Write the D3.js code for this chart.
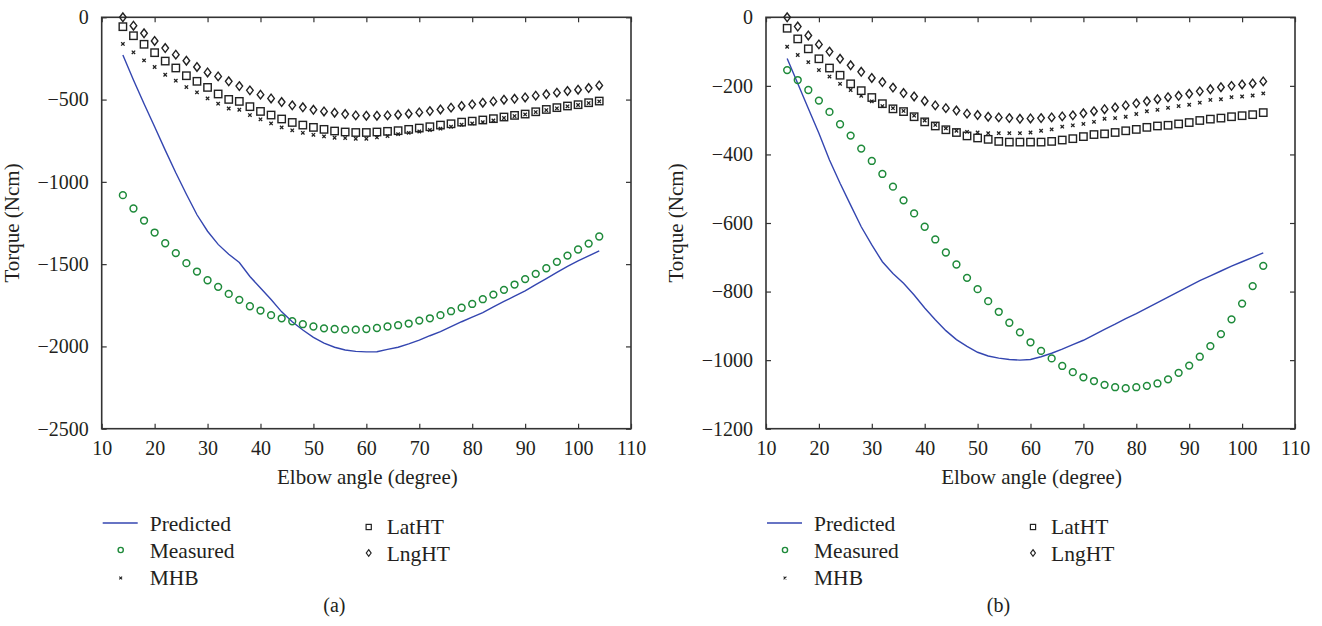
<!DOCTYPE html>
<html><head><meta charset="utf-8">
<script src="https://cdn.jsdelivr.net/npm/d3@7"></script>
<style>
body{margin:0;background:#fff;}
svg{display:block;}
text{font-family:"Liberation Serif","DejaVu Serif",serif;fill:#231f20;}
</style></head>
<body><svg id="c" width="1322" height="626"></svg>
<script>
const angles = [14,16,18,20,22,24,26,28,30,32,34,36,38,40,42,44,46,48,50,52,54,56,58,60,62,64,66,68,70,72,74,76,78,80,82,84,86,88,90,92,94,96,98,100,102,104];
const xTicks = [10,20,30,40,50,60,70,80,90,100,110];
const yTicksA = [0,-500,-1000,-1500,-2000,-2500];
const yTicksB = [0,-200,-400,-600,-800,-1000,-1200];
const seriesNames = ["Predicted","Measured","MHB","LatHT","LngHT"];

// Panel (a)
const predictedA = [-229,-381,-525,-665,-807,-945,-1075,-1200,-1300,-1380,-1440,-1490,-1575,-1645,-1715,-1790,-1850,-1900,-1945,-1980,-2005,-2022,-2030,-2033,-2032,-2018,-2005,-1985,-1962,-1935,-1910,-1880,-1850,-1822,-1794,-1760,-1727,-1695,-1662,-1625,-1588,-1550,-1513,-1480,-1450,-1420];
const measuredA = [-1081,-1162,-1235,-1308,-1373,-1433,-1494,-1545,-1598,-1638,-1681,-1717,-1756,-1782,-1810,-1829,-1847,-1865,-1879,-1890,-1894,-1898,-1898,-1894,-1888,-1879,-1871,-1861,-1843,-1829,-1810,-1786,-1765,-1742,-1713,-1685,-1656,-1624,-1591,-1559,-1525,-1486,-1448,-1411,-1375,-1332];
const mhbA = [-162,-213,-262,-302,-349,-385,-424,-456,-493,-525,-554,-562,-594,-620,-645,-669,-687,-702,-714,-724,-732,-734,-738,-738,-730,-722,-710,-702,-694,-685,-677,-665,-653,-645,-637,-627,-612,-600,-590,-576,-564,-553,-541,-533,-521,-511];
const latA = [-57,-112,-164,-215,-266,-308,-355,-389,-426,-466,-499,-511,-543,-572,-594,-618,-639,-655,-669,-681,-691,-697,-700,-700,-697,-693,-689,-681,-673,-665,-655,-647,-637,-631,-624,-616,-606,-596,-588,-574,-560,-549,-539,-531,-519,-509];
const lngA = [0,-51,-97,-144,-187,-227,-264,-302,-335,-359,-389,-418,-444,-470,-493,-515,-535,-547,-562,-572,-580,-588,-596,-598,-598,-596,-592,-586,-578,-570,-560,-549,-539,-529,-519,-511,-501,-495,-487,-476,-468,-458,-448,-440,-430,-414];

// Panel (b)
const predictedB = [-120,-193,-266,-338,-416,-484,-548,-611,-664,-713,-747,-776,-810,-848,-882,-914,-940,-960,-977,-988,-994,-998,-1000,-998,-990,-980,-968,-955,-942,-926,-910,-895,-879,-864,-848,-832,-816,-800,-784,-768,-754,-740,-726,-713,-700,-687];
const measuredB = [-154,-183,-212,-243,-276,-312,-345,-383,-419,-457,-494,-534,-572,-611,-648,-686,-721,-760,-793,-828,-859,-891,-919,-948,-973,-995,-1017,-1035,-1050,-1061,-1072,-1079,-1082,-1079,-1075,-1068,-1056,-1037,-1016,-990,-959,-924,-881,-835,-784,-725];
const mhbB = [-86,-110,-131,-154,-173,-194,-212,-229,-245,-259,-265,-273,-287,-301,-314,-324,-331,-334,-336,-338,-338,-338,-338,-336,-331,-327,-319,-315,-311,-305,-296,-294,-290,-282,-274,-270,-264,-259,-255,-249,-241,-239,-233,-231,-228,-222];
const latB = [-32,-63,-92,-121,-148,-169,-194,-214,-234,-252,-267,-275,-290,-305,-317,-328,-336,-346,-352,-356,-362,-364,-364,-364,-364,-362,-358,-354,-348,-342,-340,-336,-331,-327,-321,-317,-315,-311,-307,-301,-297,-294,-290,-287,-284,-278];
const lngB = [0,-27,-53,-79,-100,-121,-140,-159,-177,-189,-205,-221,-231,-244,-257,-265,-272,-281,-285,-290,-292,-294,-296,-295,-294,-292,-289,-286,-280,-274,-268,-263,-257,-251,-245,-239,-233,-229,-223,-216,-210,-204,-200,-196,-193,-187];

const svg = d3.select("#c");
const BLUE = "#3446b0", GREEN = "#1e8a3a", DARK = "#222";

const panels = [
  {x0:101.7, x1:631, yDom:[-2500,0], yTicks:yTicksA, label:"(a)", pred:predictedA, meas:measuredA, mhb:mhbA, lat:latA, lng:lngA},
  {x0:766, x1:1295, yDom:[-1200,0], yTicks:yTicksB, label:"(b)", pred:predictedB, meas:measuredB, mhb:mhbB, lat:latB, lng:lngB}
];
const yTop = 17.3, yBot = 428.7;

function diamond(w,h){ return `M0,${-h}L${w},0L0,${h}L${-w},0Z`; }
function cross(s){ return `M${-s},${-s}L${s},${s}M${-s},${s}L${s},${-s}`; }

panels.forEach(p => {
  const x = d3.scaleLinear().domain([10,110]).range([p.x0, p.x1]);
  const y = d3.scaleLinear().domain(p.yDom).range([yBot, yTop]);
  const g = svg.append("g");

  const axB = g.append("g").attr("transform",`translate(0,${yBot})`)
    .call(d3.axisBottom(x).tickValues(xTicks).tickSize(-5).tickPadding(12).tickFormat(d3.format("d")));
  const axT = g.append("g").attr("transform",`translate(0,${yTop})`)
    .call(d3.axisTop(x).tickValues(xTicks).tickSize(-5).tickFormat(""));
  const axL = g.append("g").attr("transform",`translate(${p.x0},0)`)
    .call(d3.axisLeft(y).tickValues(p.yTicks).tickSize(-5).tickPadding(13).tickFormat(d => d === 0 ? "0" : "\u2212" + Math.abs(d)));
  const axR = g.append("g").attr("transform",`translate(${p.x1},0)`)
    .call(d3.axisRight(y).tickValues(p.yTicks).tickSize(-5).tickFormat(""));
  [axB,axT,axL,axR].forEach(a => {
    a.selectAll(".tick line").attr("stroke","#333").attr("stroke-width",1.2);
    a.selectAll("text").attr("font-size",20).attr("fill","#231f20").attr("font-family","Liberation Serif, serif");
    a.select(".domain").remove();
  });
  g.append("rect").attr("x",p.x0).attr("y",yTop).attr("width",p.x1-p.x0).attr("height",yBot-yTop)
    .attr("fill","none").attr("stroke","#333").attr("stroke-width",1.6);

  const cx = (p.x0+p.x1)/2;
  g.append("text").attr("x",cx+1).attr("y",484).attr("text-anchor","middle").attr("font-size",21).text("Elbow angle (degree)");
  g.append("text").attr("transform",`translate(${p.x0-83},${(yTop+yBot)/2}) rotate(-90)`).attr("text-anchor","middle").attr("font-size",21).text("Torque (Ncm)");
  g.append("text").attr("x",cx-32).attr("y",612).attr("text-anchor","middle").attr("font-size",20).text(p.label);

  const line = d3.line().x((d,i)=>x(angles[i])).y(d=>y(d));
  g.append("path").datum(p.pred).attr("d",line).attr("fill","none").attr("stroke",BLUE).attr("stroke-width",1.4);

  g.append("g").selectAll("circle").data(p.meas).join("circle")
    .attr("cx",(d,i)=>x(angles[i])).attr("cy",d=>y(d)).attr("r",3.4)
    .attr("fill","none").attr("stroke",GREEN).attr("stroke-width",1.5);
  g.append("g").selectAll("path").data(p.mhb).join("path")
    .attr("transform",(d,i)=>`translate(${x(angles[i])},${y(d)})`).attr("d",cross(1.7))
    .attr("stroke","#222").attr("stroke-width",1.3).attr("fill","none");
  g.append("g").selectAll("rect").data(p.lat).join("rect")
    .attr("x",(d,i)=>x(angles[i])-3.7).attr("y",d=>y(d)-3.7).attr("width",7.4).attr("height",7.4)
    .attr("fill","none").attr("stroke",DARK).attr("stroke-width",1.4);
  g.append("g").selectAll("path").data(p.lng).join("path")
    .attr("transform",(d,i)=>`translate(${x(angles[i])},${y(d)})`).attr("d",diamond(3.3,4.3))
    .attr("fill","none").attr("stroke",DARK).attr("stroke-width",1.4);

  const lx = p.x0 + 1, ly = 523;
  const L = g.append("g");
  L.append("line").attr("x1",lx).attr("x2",lx+35).attr("y1",ly).attr("y2",ly).attr("stroke",BLUE).attr("stroke-width",1.4);
  L.append("circle").attr("cx",lx+18).attr("cy",ly+27).attr("r",2.6).attr("fill","none").attr("stroke",GREEN).attr("stroke-width",1.4);
  L.append("path").attr("transform",`translate(${lx+18},${ly+55})`).attr("d",cross(1.4)).attr("stroke","#222").attr("stroke-width",1.1);
  L.append("rect").attr("x",lx+266-2.6).attr("y",ly+4-2.6).attr("width",5.2).attr("height",5.2).attr("fill","none").attr("stroke",DARK).attr("stroke-width",1.2);
  L.append("path").attr("transform",`translate(${lx+266},${ly+30})`).attr("d",diamond(2.4,3.3)).attr("fill","none").attr("stroke",DARK).attr("stroke-width",1.2);
  const tx = lx + 47, tx2 = lx + 284;
  [["Predicted",tx,ly],["Measured",tx,ly+27],["MHB",tx,ly+54],["LatHT",tx2,ly+3],["LngHT",tx2,ly+30]].forEach(t=>{
    L.append("text").attr("x",t[1]).attr("y",t[2]).attr("dy","0.35em").attr("font-size",21.5).text(t[0]);
  });
});
</script>
</body></html>
